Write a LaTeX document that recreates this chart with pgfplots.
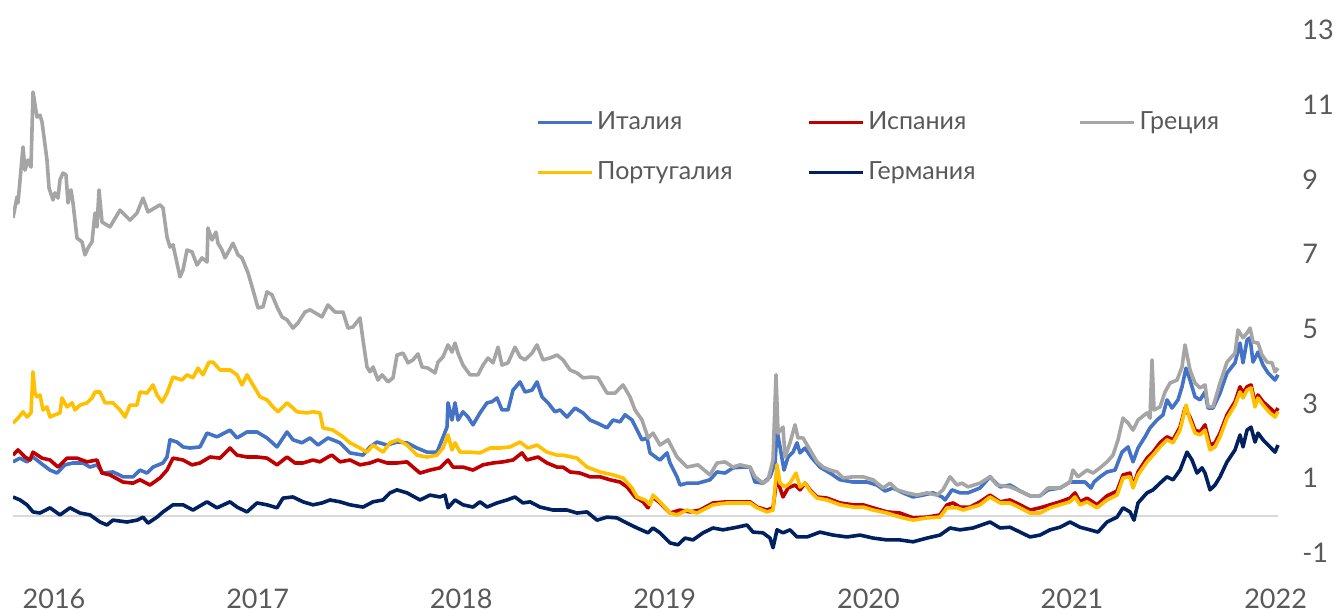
\documentclass[border=0pt]{standalone}
\usepackage{pgfplots}
\pgfplotsset{compat=1.18}
\usepackage{fontspec}
\setmainfont{Lato}
\definecolor{itc}{HTML}{4472C4}
\definecolor{esc}{HTML}{C00000}
\definecolor{grc}{HTML}{A5A5A5}
\definecolor{ptc}{HTML}{FFC000}
\definecolor{dec}{HTML}{002060}
\definecolor{txt}{HTML}{595959}
\definecolor{zl}{HTML}{D9D9D9}
\begin{document}
\begin{tikzpicture}
\begin{axis}[
  scale only axis, width=633.5pt, height=261.5pt,
  xmin=13, xmax=1280, ymin=-1, ymax=13,
  axis line style={draw=none}, tick style={draw=none},
  xtick={54,257.6,461.2,664.8,868.4,1072,1275.6},
  xticklabels={2016,2017,2018,2019,2020,2021,2022},
  ytick={-1,1,3,5,7,9,11,13},
  yticklabel pos=right,
  /pgf/number format/assume math mode=true,
  tick label style={font=\fontsize{13.5}{16}\selectfont, text=txt},
  xticklabel style={anchor=center, inner sep=0pt, yshift=-23pt},
  yticklabel style={anchor=west, inner sep=0pt, xshift=11pt},
  every axis plot/.append style={line width=1.8pt, line join=round, no markers},
  legend columns=3,
  legend image code/.code={\draw[#1, line width=1.6pt] (0pt,0pt) -- (27pt,0pt);},
  legend style={draw=none, fill=none, inner sep=0pt, outer sep=0pt,
    at={(axis description cs:0.4128,0.776)}, anchor=west,
    font=\fontsize{12.5}{15}\selectfont, text=txt,
    /tikz/column sep=0pt, /tikz/row sep=10.5pt},
  legend cell align=left,
]
\addplot[draw=zl, line width=1pt, forget plot] coordinates {(13,0)(1278,0)};

% Italy
\addplot[itc] coordinates {
(13,1.44)(20,1.54)(27,1.44)(33,1.57)(43,1.36)(50,1.22)(57,1.14)(65,1.36)(73,1.41)(83,1.41)(90,1.30)(97,1.36)(103,1.14)(113,1.17)(123,1.04)(133,1.04)(140,1.22)(147,1.14)(153,1.30)(163,1.41)(167,1.57)(170,2.03)(177,1.97)(183,1.84)(190,1.81)(200,1.84)(207,2.21)(217,2.11)(230,2.29)(237,2.08)(247,2.24)(257,2.24)(267,2.08)(277,1.84)(287,2.24)(293,2.03)(302,1.95)(310,2.08)(318,1.89)(328,2.08)
(340,1.95)(350,1.68)(363,1.62)(370,1.84)(377,1.97)(387,1.89)(397,1.97)(407,1.95)(417,1.81)(427,1.70)(437,1.70)(442,2.03)(447,2.37)(448,3.02)(452,2.56)(455,3.02)(458,2.56)(463,2.78)(468,2.64)(473,2.43)(480,2.75)(487,3.02)(492,3.05)(497,3.15)(502,2.83)(508,2.83)(513,3.36)(520,3.58)(525,3.31)(532,3.36)(537,3.58)(542,3.18)(548,3.02)(555,2.78)(560,2.83)(567,2.64)(575,2.88)(583,2.75)(590,2.56)(597,2.48)(607,2.35)(613,2.56)(620,2.51)(625,2.70)(632,2.56)(638,2.24)(642,2.03)(647,2.08)(650,1.68)(657,1.54)
(660,1.49)(667,1.68)(670,1.41)(677,1.04)(680,0.82)(687,0.87)(698,0.87)(710,0.96)(717,1.17)(725,1.14)(733,1.28)(743,1.30)(750,1.30)(755,0.90)(763,0.87)(770,1.04)(775,1.41)(777,2.29)(780,1.84)(784,1.22)(788,1.57)(793,1.70)(797,1.95)(800,1.68)(805,1.81)(812,1.54)(820,1.30)(830,1.14)(840,0.96)(853,0.90)(867,0.90)(877,0.82)(885,0.66)(893,0.74)(903,0.61)(913,0.50)(923,0.55)(933,0.61)(942,0.50)(945,0.42)(952,0.69)(960,0.61)(968,0.61)
(980,0.74)(990,1.04)(1000,0.77)(1010,0.82)(1020,0.66)(1030,0.53)(1040,0.53)(1048,0.69)(1060,0.74)(1070,0.90)(1077,0.90)(1085,0.90)(1091,0.74)(1094,0.90)(1100,1.04)(1107,1.17)(1115,1.22)(1122,1.70)(1128,1.84)(1133,1.44)(1138,1.81)(1145,2.11)(1150,2.35)(1157,2.56)(1163,2.70)(1167,3.10)(1172,2.88)(1178,3.10)(1182,3.45)(1186,3.95)(1190,3.63)(1195,3.18)(1200,3.10)(1205,3.31)(1208,2.88)(1213,2.88)(1220,3.28)(1227,3.82)(1235,4.09)(1240,4.62)(1243,4.09)(1247,4.70)(1250,4.76)(1253,4.11)(1258,4.38)(1263,4.03)(1268,3.82)(1275,3.63)(1278,3.77)
};
\addlegendentry{\makebox[103pt][l]{Италия}}

% Spain
\addplot[esc] coordinates {
(13,1.62)(18,1.76)(25,1.57)(30,1.49)(33,1.70)(42,1.54)(50,1.49)(58,1.30)(67,1.54)(77,1.54)(87,1.44)(97,1.49)(102,1.14)(110,1.09)(123,0.90)(133,0.87)(140,0.96)(150,0.82)(160,1.01)(167,1.22)(173,1.54)(183,1.49)(192,1.36)(200,1.41)(210,1.57)(220,1.54)(230,1.81)(237,1.62)(247,1.57)(257,1.57)(267,1.54)(277,1.36)(287,1.57)(295,1.41)(303,1.41)(313,1.49)(320,1.44)(328,1.57)
(332,1.62)(340,1.44)(350,1.49)(360,1.36)(370,1.41)(378,1.49)(387,1.41)(397,1.41)(407,1.44)(413,1.30)(420,1.14)(430,1.22)(440,1.28)(448,1.49)(453,1.30)(463,1.30)(473,1.22)(483,1.36)(493,1.41)(503,1.44)(513,1.49)(522,1.68)(527,1.49)(538,1.57)(547,1.41)(557,1.30)(563,1.30)(570,1.17)(580,1.14)(590,1.04)(600,1.04)(610,0.96)(620,0.90)(627,0.77)(635,0.50)(643,0.37)(648,0.21)(653,0.50)(660,0.34)
(670,0.07)(680,0.15)(690,0.10)(700,0.15)(713,0.34)(727,0.37)(740,0.37)(750,0.37)(757,0.23)(767,0.15)(773,0.21)(777,1.04)(780,0.74)(783,0.50)(788,0.74)(795,0.82)(800,0.69)(805,0.87)(810,0.69)(817,0.50)(827,0.47)(840,0.34)(853,0.29)(863,0.29)(873,0.21)(887,0.10)(900,0.07)(913,-0.06)(927,-0.04)(940,0.02)(947,0.29)(953,0.34)(960,0.23)
(970,0.23)(980,0.37)(990,0.55)(1000,0.37)(1010,0.42)(1020,0.29)(1030,0.15)(1040,0.21)(1050,0.29)(1060,0.37)(1070,0.47)(1075,0.61)(1080,0.37)(1087,0.47)(1097,0.29)(1107,0.53)(1117,0.66)(1123,1.09)(1130,1.14)(1133,0.77)(1138,1.17)(1147,1.54)(1153,1.70)(1160,1.95)(1167,2.11)(1173,2.03)(1180,2.37)(1185,2.88)(1190,2.64)(1195,2.29)(1200,2.24)(1205,2.43)(1210,1.89)(1215,1.95)(1220,2.21)(1227,2.70)(1235,3.05)(1240,3.45)(1243,3.28)(1247,3.45)(1251,3.50)(1255,3.02)(1258,3.23)(1263,3.05)(1270,2.88)(1275,2.75)(1278,2.88)
};
\addlegendentry{\makebox[103pt][l]{Испания}}

% Greece
\addplot[grc] coordinates {
(13,7.97)(17,8.53)(18,8.37)(23,9.87)(25,9.25)(28,9.52)(31,9.33)(33,11.34)(37,10.67)(40,10.72)(42,10.54)(47,9.52)(49,8.77)(53,8.45)(55,8.64)(58,8.50)(60,8.99)(63,9.17)(66,9.12)(68,8.37)(71,8.72)(73,8.37)(77,7.43)(82,7.33)(85,6.98)(88,7.16)(92,7.33)(95,8.10)(97,7.73)(99,8.72)(102,7.86)(110,7.73)(120,8.18)(130,7.91)(137,8.10)(143,8.50)(148,8.13)(160,8.32)(163,8.24)(167,7.46)(170,7.19)(173,7.25)(177,6.76)(180,6.39)(183,6.58)(187,7.11)(192,7.06)(197,6.71)(202,6.90)(207,6.79)(208,7.70)(212,7.38)(216,7.59)(218,7.29)(222,7.11)(225,6.90)(233,7.29)(238,6.98)(242,6.90)(248,6.50)(253,6.04)(258,5.56)(263,5.59)(267,5.99)(272,5.91)(277,5.59)(282,5.32)(287,5.24)(293,5.02)(298,5.16)(305,5.45)(310,5.51)(322,5.32)(328,5.64)
(335,5.45)(343,5.45)(348,5.02)(353,5.05)(360,5.29)(363,4.70)(367,3.98)(370,3.85)(373,3.98)(378,3.63)(382,3.77)(388,3.58)(393,3.69)(397,4.30)(403,4.35)(408,4.09)(413,4.17)(418,4.33)(422,3.98)(428,3.95)(435,3.82)(438,4.11)(443,4.25)(448,4.57)(452,4.38)(455,4.62)(458,4.35)(463,4.03)(470,3.77)(478,3.77)(483,4.03)(488,4.22)(493,4.09)(498,4.51)(502,4.03)(508,4.09)(515,4.51)(520,4.25)(525,4.17)(532,4.35)(537,4.57)(543,4.17)(550,4.22)(557,4.30)(563,4.17)(570,3.90)(577,3.82)(583,3.69)(592,3.71)(598,3.69)(607,3.28)(615,3.28)(623,3.50)(630,3.18)(635,2.83)(642,2.56)(648,2.08)(653,2.21)(660,1.89)
(668,2.03)(677,1.57)(687,1.30)(698,1.36)(710,1.09)(717,1.41)(725,1.44)(733,1.30)(740,1.36)(750,1.30)(755,1.04)(763,0.87)(768,0.96)(773,1.49)(776,3.77)(778,2.21)(783,2.37)(785,1.57)(790,1.95)(795,2.43)(798,2.08)(803,2.08)(810,1.76)(817,1.44)(823,1.30)(830,1.22)(837,1.17)(843,1.01)(853,1.04)(863,1.04)(873,0.96)(883,0.74)(890,0.87)(897,0.69)(907,0.61)(917,0.55)(927,0.61)(937,0.55)(943,0.69)(950,1.04)(957,0.82)(962,0.87)(968,0.77)
(980,0.87)(990,1.04)(997,0.82)(1010,0.77)(1020,0.66)(1030,0.53)(1040,0.53)(1048,0.74)(1060,0.74)(1070,0.90)(1073,1.22)(1078,1.04)(1087,1.22)(1093,1.14)(1100,1.28)(1107,1.44)(1113,1.62)(1118,2.03)(1123,2.61)(1128,2.48)(1133,2.29)(1138,2.56)(1147,2.75)(1150,2.61)(1152,4.17)(1154,2.83)(1160,2.91)(1165,3.31)(1170,3.55)(1177,3.63)(1182,3.98)(1185,4.57)(1190,3.90)(1195,3.55)(1200,3.42)(1205,3.50)(1208,2.91)(1213,2.91)(1220,3.55)(1227,4.11)(1235,4.35)(1238,4.97)(1243,4.76)(1247,4.89)(1250,5.02)(1253,4.65)(1258,4.62)(1262,4.30)(1267,4.11)(1272,4.09)(1275,3.85)(1278,3.95)
};
\addlegendentry{Греция}

% Portugal
\addplot[ptc] coordinates {
(13,2.48)(18,2.61)(23,2.78)(27,2.64)(31,2.75)(33,3.85)(35,3.28)(37,3.18)(40,3.23)(43,2.83)(47,2.91)(50,2.64)(55,2.70)(60,2.75)(62,3.15)(67,2.91)(72,3.02)(75,2.83)(80,2.96)(87,3.02)(92,3.15)(95,3.31)(100,3.31)(105,3.02)(113,3.02)(120,2.83)(125,2.64)(130,2.96)(137,2.96)(140,3.31)(147,3.28)(153,3.50)(157,3.23)(162,3.04)(167,3.28)(173,3.71)(182,3.63)(187,3.77)(193,3.69)(198,3.95)(203,3.77)(209,4.11)(213,4.11)(220,3.90)(230,3.90)(237,3.77)(242,3.50)(247,3.77)(253,3.50)(260,3.18)(267,3.10)(273,2.91)(278,2.78)(287,3.02)(293,2.88)(297,2.78)(307,2.75)(313,2.78)(320,2.75)(323,2.35)(333,2.29)(343,2.11)(350,1.95)(358,1.84)(367,1.70)(373,1.89)(383,1.70)(390,1.95)(398,2.03)(407,1.89)(417,1.62)(427,1.57)(437,1.62)(443,1.81)(448,2.16)(452,1.76)(455,1.95)(460,1.70)(470,1.70)(480,1.68)(490,1.81)(500,1.81)(510,1.84)(520,1.97)(528,1.81)(537,1.89)(547,1.70)(557,1.62)(563,1.62)(577,1.54)(587,1.30)(600,1.17)(613,1.09)(623,1.01)(632,0.74)(637,0.50)(645,0.42)(650,0.29)(653,0.55)(660,0.37)
(670,0.07)(677,0.02)(687,0.15)(697,0.07)(713,0.29)(727,0.34)(740,0.34)(750,0.34)(757,0.21)(767,0.10)(773,0.15)(777,1.36)(780,0.87)(785,0.77)(790,0.87)(796,1.14)(800,0.77)(805,0.87)(810,0.66)(817,0.47)(827,0.42)(840,0.29)(853,0.23)(863,0.23)(873,0.15)(887,0.07)(900,-0.04)(913,-0.12)(927,-0.06)(940,-0.04)(947,0.21)(957,0.21)(963,0.15)(973,0.23)
(980,0.29)(990,0.50)(1000,0.34)(1010,0.34)(1020,0.21)(1030,0.07)(1040,0.07)(1050,0.21)(1060,0.29)(1070,0.37)(1075,0.50)(1080,0.29)(1087,0.37)(1097,0.21)(1107,0.42)(1117,0.55)(1123,1.01)(1130,1.04)(1133,0.74)(1138,1.09)(1147,1.44)(1153,1.62)(1160,1.84)(1167,2.03)(1173,1.95)(1180,2.29)(1186,2.96)(1190,2.56)(1195,2.21)(1200,2.16)(1205,2.29)(1210,1.76)(1215,1.84)(1220,2.11)(1227,2.61)(1235,2.96)(1240,3.31)(1243,3.15)(1247,3.36)(1251,3.42)(1255,2.91)(1258,3.15)(1263,2.96)(1270,2.75)(1275,2.64)(1278,2.78)
};
\addlegendentry{\makebox[103pt][l]{Португалия}}

% Germany
\addplot[dec] coordinates {
(13,0.50)(20,0.42)(27,0.29)(33,0.10)(40,0.07)(50,0.21)(60,0.02)(70,0.21)(80,0.07)(90,0.02)(100,-0.17)(107,-0.25)(113,-0.12)(127,-0.17)(137,-0.12)(143,-0.04)(148,-0.20)(157,-0.04)(163,0.10)(173,0.29)(183,0.29)(193,0.15)(207,0.37)(217,0.21)(230,0.37)(237,0.23)(247,0.10)(257,0.34)(267,0.29)(277,0.21)(283,0.47)(293,0.50)(303,0.37)(313,0.29)(322,0.34)(330,0.42)(340,0.37)(350,0.29)(363,0.23)(373,0.37)(383,0.42)(390,0.61)(397,0.69)(407,0.61)(420,0.42)(430,0.55)(440,0.50)(445,0.55)(448,0.21)(455,0.42)(463,0.29)(473,0.23)(480,0.37)(487,0.23)(497,0.34)(507,0.42)(515,0.50)(523,0.34)(530,0.37)(540,0.23)(553,0.15)(567,0.15)(577,0.07)(587,0.10)(597,-0.12)(607,-0.04)(617,-0.06)(627,-0.20)(637,-0.33)(648,-0.46)(653,-0.33)(660,-0.46)
(670,-0.73)(678,-0.78)(685,-0.60)(693,-0.65)(703,-0.46)(713,-0.33)(723,-0.38)(737,-0.31)(747,-0.25)(753,-0.44)(763,-0.46)(770,-0.60)(773,-0.86)(777,-0.38)(783,-0.46)(790,-0.38)(797,-0.57)(807,-0.57)(820,-0.44)(833,-0.52)(847,-0.57)(860,-0.52)(873,-0.60)(887,-0.65)(900,-0.65)(913,-0.70)(927,-0.60)(940,-0.52)(950,-0.33)(960,-0.38)(973,-0.33)
(990,-0.17)(1000,-0.33)(1010,-0.31)(1020,-0.44)(1030,-0.57)(1040,-0.52)(1050,-0.38)(1060,-0.31)(1070,-0.17)(1080,-0.31)(1090,-0.38)(1098,-0.44)(1107,-0.17)(1117,-0.04)(1123,0.21)(1130,0.10)(1134,-0.12)(1138,0.34)(1147,0.61)(1153,0.69)(1160,0.87)(1167,1.04)(1173,0.96)(1180,1.22)(1187,1.70)(1192,1.49)(1197,1.14)(1202,1.28)(1205,1.14)(1210,0.69)(1215,0.82)(1220,1.04)(1227,1.44)(1235,1.76)(1240,2.16)(1243,1.84)(1247,2.29)(1251,2.37)(1255,1.97)(1258,2.21)(1263,2.03)(1270,1.84)(1275,1.70)(1278,1.89)
};
\addlegendentry{\makebox[103pt][l]{Германия}}
\end{axis}
\pgfresetboundingbox
\path (-6.5pt,-29.5pt) rectangle (661.5pt,276.5pt);
\end{tikzpicture}
\end{document}
